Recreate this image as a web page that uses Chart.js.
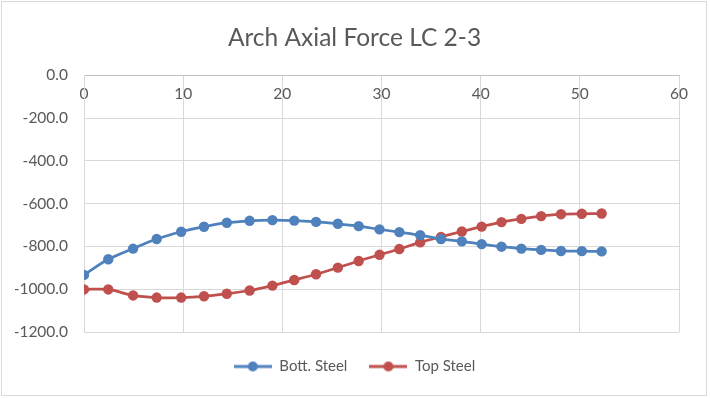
<!DOCTYPE html>
<html>
<head>
<meta charset="utf-8">
<script src="https://cdn.jsdelivr.net/npm/chart.js@4"></script>
<style>
    body { margin: 0; background: #ffffff; }
    #wrap { position: relative; width: 710px; height: 398px; }
    #frame { position: absolute; left: 1px; top: 1px; width: 706px; height: 395px; border: 1px solid #d9d9d9; box-sizing: border-box; pointer-events: none; }
</style>
</head>
<body>
<div id="wrap">
    <canvas id="grafico" width="710" height="398"></canvas>
    <div id="frame"></div>
</div>
<script>
// distancia ao longo do arco
var posicoes = [0, 2.45, 4.95, 7.33, 9.8, 12.1, 14.4, 16.7, 19.0, 21.2, 23.4, 25.6, 27.7, 29.8, 31.8, 33.9, 36.0, 38.1, 40.1, 42.1, 44.1, 46.1, 48.1, 50.2, 52.2];
var bottSteel = [-933, -860, -810, -765, -731, -708, -689, -680, -677, -679, -685, -694, -705, -720, -733, -747, -765, -776, -789, -801, -810, -816, -821, -822, -823];
var topSteel = [-1001, -1001, -1029, -1039, -1039, -1033, -1021, -1006, -983, -957, -930, -899, -868, -839, -812, -781, -755, -730, -707, -686, -671, -658, -649, -647, -646];
var nomesSeries = ['Bott. Steel', 'Top Steel'];
var coresSeries = ['#4F81BD', '#C0504D'];
var tituloGrafico = 'Arch Axial Force LC 2-3';

var fonte = "Lato, 'Open Sans', sans-serif";
var corTexto = '#595959';

function montarPontos(ys) {
    var pontos = [];
    for (var i = 0; i < posicoes.length; i++) {
        pontos.push({ x: posicoes[i], y: ys[i] });
    }
    return pontos;
}

// icone da legenda: linha com marcador no meio
function iconeLegenda(cor) {
    var c = document.createElement('canvas');
    c.width = 38;
    c.height = 12;
    var g = c.getContext('2d');
    g.strokeStyle = cor;
    g.lineWidth = 3;
    g.beginPath();
    g.moveTo(0, 6);
    g.lineTo(38, 6);
    g.stroke();
    g.fillStyle = cor;
    g.beginPath();
    g.arc(19, 6, 5, 0, Math.PI * 2);
    g.fill();
    return c;
}

var series = [bottSteel, topSteel];
var datasets = [];
for (var s = 0; s < series.length; s++) {
    datasets.push({
        label: nomesSeries[s],
        data: montarPontos(series[s]),
        borderColor: coresSeries[s],
        backgroundColor: coresSeries[s],
        borderWidth: 2.75,
        pointRadius: 5.2,
        pointHoverRadius: 5.2,
        pointBorderWidth: 0,
        showLine: true,
        tension: 0.35
    });
}

// eixos vazios so para reservar espaco
var eixoVazio = {
    display: true,
    grid: { display: false, drawTicks: false },
    border: { display: false },
    ticks: { display: false }
};

var ctx = document.getElementById('grafico').getContext('2d');
new Chart(ctx, {
    type: 'scatter',
    data: { datasets: datasets },
    options: {
        responsive: false,
        animation: false,
        layout: { padding: { left: 15, right: 16, top: 0, bottom: 14 } },
        plugins: {
            title: {
                display: true,
                text: tituloGrafico,
                color: corTexto,
                font: { family: fonte, size: 24.5, weight: 'normal' },
                padding: { top: 23, bottom: 23 }
            },
            legend: {
                position: 'bottom',
                labels: {
                    usePointStyle: true,
                    pointStyleWidth: 38,
                    color: corTexto,
                    padding: 22,
                    font: { family: fonte, size: 15 },
                    generateLabels: function (chart) {
                        var itens = Chart.defaults.plugins.legend.labels.generateLabels(chart);
                        itens.forEach(function (item, i) {
                            item.pointStyle = iconeLegenda(coresSeries[i]);
                        });
                        return itens;
                    }
                }
            },
            tooltip: { enabled: false }
        },
        scales: {
            x: {
                type: 'linear',
                position: 'top',
                min: 0,
                max: 60,
                afterFit: function (scale) { scale.height = 0; },
                ticks: {
                    stepSize: 10,
                    mirror: true,
                    padding: 9,
                    color: corTexto,
                    font: { family: fonte, size: 15.5 }
                },
                grid: { color: '#d9d9d9', drawTicks: false },
                border: { color: '#bfbfbf' }
            },
            y: {
                min: -1200,
                max: 0,
                afterFit: function (scale) { scale.width = 69; },
                ticks: {
                    stepSize: 200,
                    padding: 16,
                    color: corTexto,
                    font: { family: fonte, size: 15.5 },
                    callback: function (v) { return Number(v).toFixed(1); }
                },
                grid: { color: '#d9d9d9', drawTicks: false },
                border: { color: '#d9d9d9' }
            },
            direita: Object.assign({ type: 'linear', position: 'right', afterFit: function (scale) { scale.width = 15; } }, eixoVazio),
            baixo: Object.assign({ type: 'linear', position: 'bottom', afterFit: function (scale) { scale.height = 5; } }, eixoVazio)
        }
    }
});
</script>
</body>
</html>
